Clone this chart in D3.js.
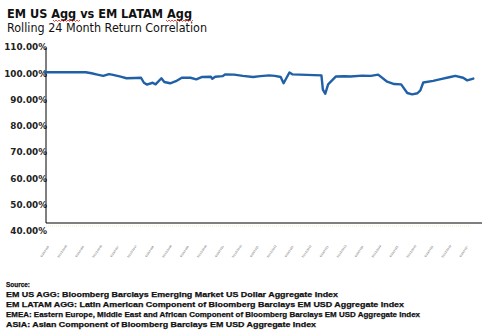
<!DOCTYPE html>
<html><head><meta charset="utf-8">
<script src="https://cdn.jsdelivr.net/npm/d3@7"></script>
<style>
html,body{margin:0;padding:0;background:#fff;}
svg{display:block;}
</style></head>
<body><svg id="c" width="482" height="335"></svg>
<script>
// ---- data ----
const title = "EM US Agg vs EM LATAM Agg";
const subtitle = "Rolling 24 Month Return Correlation";
const yTicks = [40, 50, 60, 70, 80, 90, 100, 110];
const tickLabels = ["6/30/2005","12/31/2005","6/30/2006","12/31/2006","6/30/2007","12/31/2007","6/30/2008","12/31/2008","6/30/2009","12/31/2009","6/30/2010","12/31/2010","6/30/2011","12/31/2011","6/30/2012","12/31/2012","6/30/2013","12/31/2013","6/30/2014","12/31/2014","6/30/2015","12/31/2015","6/30/2016","12/31/2016","6/30/2017"];
const tickMonths = d3.range(0, 25).map(i => i * 6);
const months = [0,14,16,18,20,22,23,26,28,31,33,34,35,37,38,40,41,43,45,47,50,52,54,57,57.5,58.5,61,62,65,68,71.5,74,77,79,81,82,84,85,90,95,95.5,96.3,97.3,100,103,105,109,112,114.5,117.6,120,122.4,124.5,126.2,128,129,130,133.4,136,139.3,141,143.7,145.1,147.2];
const values = [100.4,100.4,100.0,99.5,99.0,99.7,99.5,98.7,98.1,98.2,98.3,96.4,95.7,96.4,95.8,98.1,96.7,96.2,97.0,98.3,98.3,97.7,98.6,98.7,97.9,98.7,98.9,99.6,99.5,99.0,98.6,98.9,99.2,99.0,98.6,96.2,100.3,99.6,99.4,99.2,93.8,92.2,95.8,98.8,98.9,98.8,99.1,99.0,99.5,96.8,95.9,95.8,92.5,92.0,92.4,93.5,96.5,97.1,97.8,98.6,99.0,98.3,97.3,98.0];
const sourceLines = [
  "Source:",
  "EM US AGG: Bloomberg Barclays Emerging Market US Dollar Aggregate Index",
  "EM LATAM AGG: Latin American Component of Bloomberg Barclays EM USD Aggregate Index",
  "EMEA: Eastern Europe, Middle East and African Component of Bloomberg Barclays EM USD Aggregate Index",
  "ASIA: Asian Component of Bloomberg Barclays EM USD Aggregate Index"
];

// ---- layout ----
const svg = d3.select("#c");
const x = d3.scaleLinear().domain([0, 144]).range([45, 464]);
const y = d3.scaleLinear().domain([40, 110]).range([231, 47]);
const axisX = 46, axisYTop = 48, axisYBot = 223;

// title
svg.append("text").attr("x", 7).attr("y", 18)
  .attr("font-family", "DejaVu Sans, Verdana, sans-serif").attr("font-weight", "bold")
  .attr("font-size", 13).attr("fill", "#111").text(title)
  .attr("textLength", 185).attr("lengthAdjust", "spacingAndGlyphs");
svg.append("text").attr("x", 7).attr("y", 32)
  .attr("font-family", "DejaVu Sans, Verdana, sans-serif")
  .attr("font-size", 12.5).attr("fill", "#111").text(subtitle)
  .attr("textLength", 200).attr("lengthAdjust", "spacingAndGlyphs");

// red squiggles under "Agg"
function squiggle(x0, x1, yy) {
  let p = "M" + x0 + "," + yy;
  for (let xx = x0, k = 0; xx < x1; xx += 1.5, k++) p += " L" + (xx + 1.5) + "," + (yy + (k % 2 ? 0 : 1.5));
  svg.append("path").attr("d", p).attr("fill", "none").attr("stroke", "#e02020").attr("stroke-width", 0.8);
}
squiggle(53, 79, 20);
squiggle(166, 192, 20);

// y axis labels
const yAxis = d3.axisLeft(y).tickValues(yTicks).tickSize(0).tickPadding(0)
  .tickFormat(d => d3.format(".2f")(d) + "%");
const gy = svg.append("g").attr("transform", "translate(" + (axisX + 1) + ",0)").call(yAxis);
gy.select(".domain").remove();
gy.selectAll("text").attr("font-family", "DejaVu Sans, Verdana, sans-serif")
  .attr("font-weight", "bold").attr("font-size", 8.8).attr("fill", "#222");

// faint dotted line
svg.append("line").attr("x1", axisX).attr("x2", 470).attr("y1", 226).attr("y2", 226)
  .attr("stroke", "#ecebc4").attr("stroke-width", 1).attr("stroke-dasharray", "1,1");

// axes lines
svg.append("line").attr("x1", axisX).attr("x2", axisX).attr("y1", axisYTop).attr("y2", axisYBot)
  .attr("stroke", "#000").attr("stroke-width", 1);
svg.append("line").attr("x1", axisX).attr("x2", 482).attr("y1", axisYBot).attr("y2", axisYBot)
  .attr("stroke", "#000").attr("stroke-width", 1);

// x tick labels (tiny rotated)
const xAxis = d3.axisBottom(x).tickValues(tickMonths).tickSize(0).tickPadding(0)
  .tickFormat((d, i) => tickLabels[i]);
const gx = svg.append("g").attr("transform", "translate(0,252)").call(xAxis);
gx.select(".domain").remove();
gx.selectAll("text").attr("font-family", "DejaVu Sans, sans-serif").attr("font-size", 2.6)
  .attr("fill", "#555").attr("text-anchor", "middle").attr("dy", 0)
  .attr("transform", "rotate(-55)");

// line
const data = months.map((m, i) => ({ m, v: values[i] }));
svg.append("path").datum(data)
  .attr("fill", "none").attr("stroke", "#1f60a6").attr("stroke-width", 2.4)
  .attr("stroke-linejoin", "round").attr("stroke-linecap", "round")
  .attr("d", d3.line().x(d => x(d.m)).y(d => y(d.v)));

// source text
const widths = [24, 332, 398, 414, 310];
sourceLines.forEach((s, i) => {
  svg.append("text").attr("x", 6).attr("y", 287 + i * 9.9)
    .attr("font-family", "Liberation Sans, Arial, sans-serif").attr("font-weight", "bold")
    .attr("font-size", 7.4).attr("fill", "#111").attr("stroke", "#111").attr("stroke-width", 0.25)
    .text(s)
    .attr("textLength", widths[i]).attr("lengthAdjust", "spacingAndGlyphs");
});
</script></body></html>
